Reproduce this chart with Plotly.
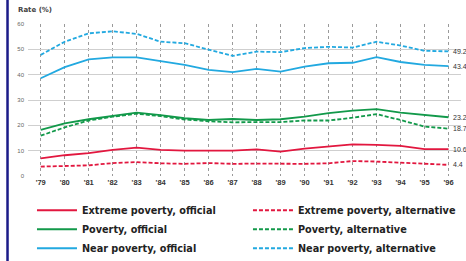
import plotly.graph_objects as go

years = list(range(1979, 1997))
tick_labels = ["'79", "'80", "'81", "'82", "'83", "'84", "'85", "'86", "'87",
               "'88", "'89", "'90", "'91", "'92", "'93", "'94", "'95", "'96"]

near_official = [38.6, 43.0, 46.0, 46.8, 46.8, 45.2, 43.9, 41.9, 41.0, 42.3, 41.2, 43.2,
                 44.5, 44.7, 46.9, 45.0, 43.9, 43.4]
near_alternative = [47.8, 53.0, 56.3, 57.1, 56.1, 53.0, 52.4, 50.0, 47.4, 49.1, 48.9, 50.5,
                    51.0, 50.7, 53.0, 51.5, 49.4, 49.2]
poverty_official = [18.2, 20.8, 22.4, 23.7, 25.0, 24.0, 22.8, 22.1, 22.5, 22.1, 22.4, 23.4,
                    24.8, 25.8, 26.4, 25.0, 24.1, 23.2]
poverty_alternative = [15.9, 19.2, 21.9, 23.4, 24.6, 23.6, 22.3, 21.6, 21.2, 21.2, 21.3, 21.9,
                       21.9, 23.0, 24.4, 22.1, 19.5, 18.7]
extreme_official = [7.0, 8.2, 9.0, 10.3, 11.2, 10.3, 10.0, 10.0, 10.0, 10.5, 9.6, 10.8,
                    11.6, 12.5, 12.3, 11.9, 10.6, 10.6]
extreme_alternative = [3.7, 4.0, 4.2, 5.1, 5.5, 5.0, 4.8, 5.1, 4.8, 4.9, 4.7, 4.8,
                       5.0, 5.9, 5.7, 5.3, 4.8, 4.4]

RED = "#e2173f"
GREEN = "#12994a"
BLUE = "#22a9e0"

series = [
    ("Extreme poverty, official", extreme_official, RED, "solid", "legend"),
    ("Poverty, official", poverty_official, GREEN, "solid", "legend"),
    ("Near poverty, official", near_official, BLUE, "solid", "legend"),
    ("Extreme poverty, alternative", extreme_alternative, RED, "4px,2px", "legend2"),
    ("Poverty, alternative", poverty_alternative, GREEN, "4px,2px", "legend2"),
    ("Near poverty, alternative", near_alternative, BLUE, "4px,2px", "legend2"),
]

FONT = "Liberation Sans, Arial, sans-serif"
WIDE = "DejaVu Sans, Verdana, sans-serif"

fig = go.Figure()
for name, vals, color, dash, leg in series:
    fig.add_trace(go.Scatter(
        x=years, y=vals, mode="lines", name=name,
        line=dict(color=color, width=1.8, dash=dash),
        legend=leg,
    ))

# end-of-line value labels
for name, vals, color, dash, leg in series:
    fig.add_annotation(
        x=years[-1], y=vals[-1], text=f"{vals[-1]:.1f}", showarrow=False,
        xanchor="left", yanchor="middle", xshift=2,
        font=dict(family=FONT, size=7, color="#333333"),
    )

fig.add_annotation(
    xref="paper", yref="paper", x=-0.027, y=1.05, text="<b>Rate (%)</b>",
    showarrow=False, xanchor="left", yanchor="bottom",
    font=dict(family=WIDE, size=7, color="#444444"),
)

# left border line
fig.add_shape(type="line", xref="paper", yref="paper",
              x0=-0.0473, x1=-0.0473, y0=-0.6, y1=1.2,
              line=dict(color="#1b1b88", width=2.5))

legend_font = dict(family=WIDE, size=9.7, color="#222222", weight="bold")

fig.update_layout(
    width=466, height=261,
    margin=dict(l=28, r=5, t=24, b=85, autoexpand=False),
    paper_bgcolor="white", plot_bgcolor="white",
    xaxis=dict(
        range=[1978.47, 1996.52], tickmode="array", tickvals=years, ticktext=tick_labels,
        showgrid=True, gridcolor="#9a9a9a", griddash="dot", gridwidth=1,
        zeroline=False, showline=False, ticks="", automargin=False,
        tickfont=dict(family=FONT, size=7.5, color="#333333", weight="bold"),
    ),
    yaxis=dict(
        range=[0, 60], tickvals=[0, 10, 20, 30, 40, 50, 60],
        showgrid=True, gridcolor="#cfcfcf", gridwidth=1,
        zeroline=False, showline=False, ticks="", automargin=False,
        tickfont=dict(family=FONT, size=6, color="#666666"),
        ticklabelstandoff=3,
    ),
    showlegend=True,
    legend=dict(
        x=0.0092, y=-0.13, xanchor="left", yanchor="top", orientation="v",
        font=legend_font, bgcolor="rgba(0,0,0,0)", itemwidth=40,
        tracegroupgap=0,
    ),
    legend2=dict(
        x=0.508, y=-0.13, xanchor="left", yanchor="top", orientation="v",
        font=legend_font, bgcolor="rgba(0,0,0,0)", itemwidth=40,
        tracegroupgap=0,
    ),
)

fig.write_html("out.html", config={"displayModeBar": False},
               post_script="document.body.style.margin='0';")
